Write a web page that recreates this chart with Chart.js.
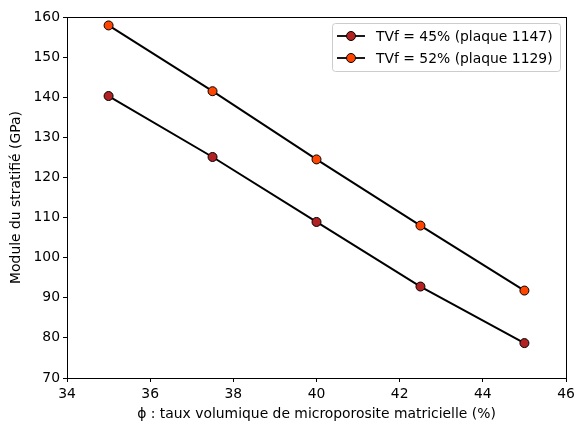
<!DOCTYPE html>
<html>
<head>
<meta charset="utf-8">
<script src="https://cdn.jsdelivr.net/npm/chart.js@4/dist/chart.umd.min.js"></script>
<style>
  html,body{margin:0;padding:0;background:#fff;}
  #wrap{width:574px;height:423px;position:relative;}
</style>
</head>
<body>
<div id="wrap"><canvas id="c"></canvas></div>
<script>
const xVals = [35, 37.5, 40, 42.5, 45];
const tvf45 = [140.3, 125.1, 108.9, 92.8, 78.7];
const tvf52 = [157.9, 141.5, 124.5, 108.0, 91.8];
const labels = ['TVf = 45% (plaque 1147)', 'TVf = 52% (plaque 1129)'];
const markerColors = ['#B22222', '#FF4500'];

const FONT = 'DejaVu Sans';

// axes frame + legend box, drawn after the datasets
const framePlugin = {
  id: 'frame',
  afterDraw(chart){
    const {ctx, chartArea:a} = chart;
    ctx.save();
    ctx.strokeStyle = '#000'; ctx.lineWidth = 1;
    ctx.strokeRect(Math.round(a.left)+0.5, Math.round(a.top)+0.5, Math.round(a.right-a.left), Math.round(a.bottom-a.top));
    // legend
    const bx = 332, by = 23, bw = 228, bh = 48;
    ctx.fillStyle = 'rgba(255,255,255,0.8)';
    ctx.strokeStyle = '#cccccc';
    ctx.beginPath(); ctx.roundRect(bx+0.5, by+0.5, bw, bh, 3); ctx.fill(); ctx.stroke();
    ctx.font = '13.9px ' + FONT; ctx.textBaseline = 'middle'; ctx.fillStyle = '#000';
    chart.data.datasets.forEach((ds, i) => {
      const y = by + 13 + i*22;
      ctx.strokeStyle = '#000'; ctx.lineWidth = 1.8;
      ctx.beginPath(); ctx.moveTo(bx+5, y); ctx.lineTo(bx+33, y); ctx.stroke();
      ctx.beginPath(); ctx.arc(bx+19, y, 4.5, 0, Math.PI*2);
      ctx.fillStyle = markerColors[i]; ctx.fill(); ctx.lineWidth = 1; ctx.stroke();
      ctx.fillStyle = '#000'; ctx.fillText(ds.label, bx+44, y+1);
    });
    ctx.restore();
  }
};

function series(i, data){
  return {
    label: labels[i],
    data: xVals.map((x, k) => ({x, y: data[k]})),
    borderColor: '#000', borderWidth: 2,
    pointBackgroundColor: markerColors[i], pointBorderColor: '#000', pointBorderWidth: 1,
    pointRadius: 4.5, pointHoverRadius: 4.5, tension: 0
  };
}

new Chart(document.getElementById('c'), {
  type: 'line',
  data: { datasets: [series(0, tvf45), series(1, tvf52)] },
  options: {
    responsive: true, maintainAspectRatio: false, animation: false,
    layout: { padding: { top: 17, right: 8, left: 0, bottom: 0 } },
    plugins: { legend: { display: false }, tooltip: { enabled: false } },
    scales: {
      x: {
        type: 'linear', min: 34, max: 46,
        afterFit(s){ s.height = 45; s.paddingLeft = 0; s.paddingRight = 0; },
        ticks: { stepSize: 2, color: '#000', font: { family: FONT, size: 13.9 }, padding: 4, maxRotation: 0 },
        grid: { drawOnChartArea: false, tickLength: 4, tickColor: '#000' },
        border: { display: false },
        title: { display: true, text: 'ϕ : taux volumique de microporosite matricielle (%)', color: '#000', font: { family: FONT, size: 13.9 }, padding: { top: 4, bottom: 0 } }
      },
      y: {
        min: 70, max: 160,
        afterFit(s){ s.width = 67; s.paddingTop = 0; s.paddingBottom = 0; },
        ticks: { stepSize: 10, color: '#000', font: { family: FONT, size: 13.9 }, padding: 3 },
        grid: { drawOnChartArea: false, tickLength: 4, tickColor: '#000' },
        border: { display: false },
        title: { display: true, text: 'Module du stratifié (GPa)', color: '#000', font: { family: FONT, size: 13.9 }, padding: { top: 8, bottom: 4 } }
      }
    }
  },
  plugins: [framePlugin]
});
</script>
</body>
</html>
